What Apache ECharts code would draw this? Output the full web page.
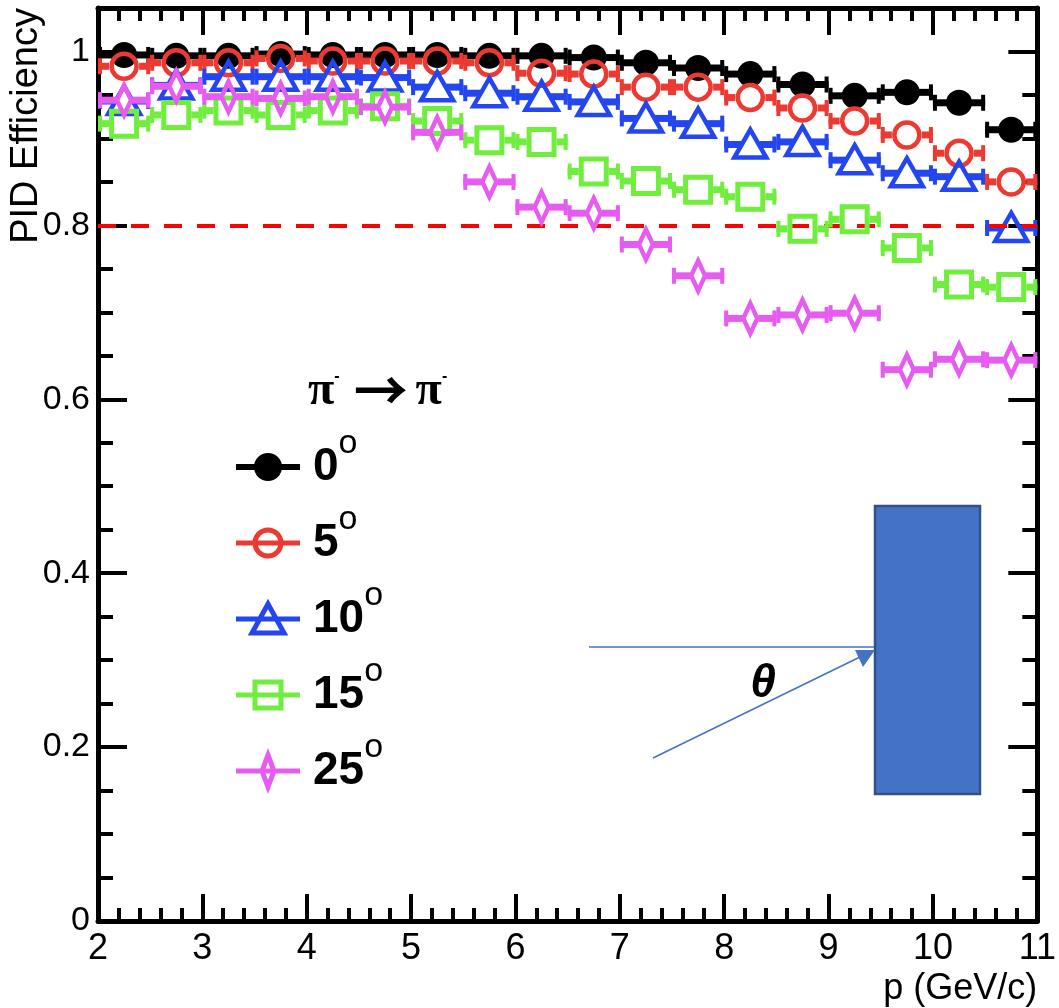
<!DOCTYPE html>
<html>
<head>
<meta charset="utf-8">
<title>PID Efficiency</title>
<script src="https://cdn.jsdelivr.net/npm/echarts@6/dist/echarts.min.js"></script>
<style>
  html, body { margin: 0; padding: 0; background: #fff; }
  #chart { width: 1059px; height: 1008px; }
</style>
</head>
<body>
<div id="chart"></div>
<script>
// momentum bins (GeV/c), half width 0.25
const binCenters = [2.25, 2.75, 3.25, 3.75, 4.25, 4.75, 5.25, 5.75, 6.25, 6.75, 7.25, 7.75, 8.25, 8.75, 9.25, 9.75, 10.25, 10.75];
const binHalfWidth = 0.25;

// efficiency per incidence angle
const eff0 = [0.996, 0.995, 0.995, 0.997, 0.996, 0.996, 0.996, 0.995, 0.995, 0.993, 0.987, 0.981, 0.974, 0.962, 0.949, 0.953, 0.941, 0.910];
const eff5 = [0.983, 0.987, 0.987, 0.992, 0.989, 0.989, 0.989, 0.987, 0.975, 0.974, 0.959, 0.959, 0.947, 0.935, 0.920, 0.904, 0.883, 0.850];
const eff10 = [0.943, 0.961, 0.971, 0.971, 0.971, 0.970, 0.959, 0.952, 0.948, 0.942, 0.923, 0.917, 0.893, 0.896, 0.875, 0.860, 0.856, 0.797];
const eff15 = [0.917, 0.927, 0.932, 0.927, 0.932, 0.937, 0.920, 0.898, 0.896, 0.862, 0.851, 0.841, 0.833, 0.796, 0.807, 0.774, 0.732, 0.729];
const eff25 = [0.944, 0.960, 0.948, 0.946, 0.948, 0.936, 0.907, 0.850, 0.821, 0.814, 0.778, 0.742, 0.693, 0.697, 0.699, 0.634, 0.646, 0.645];

const angleNames = ['0°', '5°', '10°', '15°', '25°'];
const cutLevel = 0.8;

const colors = ['#000000', '#ec3a33', '#2346f0', '#70ee3e', '#e65cf0'];
const markerKinds = ['dot', 'circle', 'triangle', 'square', 'diamond'];
const allData = [eff0, eff5, eff10, eff15, eff25];

const FONT = 'Liberation Sans, Arial, sans-serif';

// half gap left in the bar around each marker
const markerGap = { dot: 12, circle: 15, triangle: 9, square: 15, diamond: 8 };

function markerShape(kind, cx, cy, color) {
  const open = { fill: 'none', stroke: color, lineWidth: 4.5 };
  if (kind === 'dot') return { type: 'circle', shape: { cx: cx, cy: cy, r: 13 }, style: { fill: color } };
  if (kind === 'circle') return { type: 'circle', shape: { cx: cx, cy: cy, r: 12.5 }, style: open };
  if (kind === 'triangle') return { type: 'polygon', shape: { points: [[cx, cy - 15], [cx + 16, cy + 13], [cx - 16, cy + 13]] }, style: open };
  if (kind === 'square') return { type: 'rect', shape: { x: cx - 12.5, y: cy - 12.5, width: 25, height: 25 }, style: Object.assign({}, open, { lineWidth: 5 }) };
  return { type: 'polygon', shape: { points: [[cx, cy - 15], [cx + 7, cy], [cx, cy + 15], [cx - 7, cy]] }, style: open };
}

function makeRender(kind, color) {
  return function (params, api) {
    const x = api.value(0);
    const y = api.value(1);
    const c = api.coord([x, y]);
    const l = api.coord([x - binHalfWidth, y]);
    const r = api.coord([x + binHalfWidth, y]);
    const gap = markerGap[kind];
    const bar = { stroke: color, lineWidth: 7 };
    const cap = { stroke: color, lineWidth: 4 };
    return {
      type: 'group',
      children: [
        { type: 'line', shape: { x1: l[0], y1: c[1], x2: c[0] - gap, y2: c[1] }, style: bar },
        { type: 'line', shape: { x1: c[0] + gap, y1: c[1], x2: r[0], y2: c[1] }, style: bar },
        { type: 'line', shape: { x1: l[0] + 2, y1: c[1] - 8, x2: l[0] + 2, y2: c[1] + 8 }, style: cap },
        { type: 'line', shape: { x1: r[0] - 2, y1: c[1] - 8, x2: r[0] - 2, y2: c[1] + 8 }, style: cap },
        markerShape(kind, c[0], c[1], color)
      ]
    };
  };
}

const series = angleNames.map(function (name, i) {
  const s = {
    name: name,
    type: 'custom',
    renderItem: makeRender(markerKinds[i], colors[i]),
    data: binCenters.map(function (x, k) { return [x, allData[i][k]]; }),
    encode: { x: 0, y: 1 },
    itemStyle: { color: colors[i] },
    clip: false,
    z: 2 + i
  };
  if (i === 0) {
    s.markLine = {
      silent: true,
      symbol: ['none', 'none'],
      label: { show: false },
      lineStyle: { color: '#ff0000', type: [18, 15], width: 4 },
      data: [{ yAxis: cutLevel }]
    };
  }
  return s;
});

// legend icons: line through the marker, box 64x34
const box = 'M0,0L0,0M64,34L64,34M0,17L64,17';
const legendIcons = [
  'path://' + box + 'M43,17A11,11,0,1,1,21,17A11,11,0,1,1,43,17Z',
  'path://' + box + 'M45,17A13,13,0,1,1,19,17A13,13,0,1,1,45,17Z',
  'path://' + box + 'M32,2L48,31L16,31Z',
  'path://' + box + 'M19,4L45,4L45,30L19,30Z',
  'path://' + box + 'M32,1L38,17L32,33L26,17Z'
];

const xAxisBase = {
  type: 'value', min: 2, max: 11, interval: 1,
  axisLine: { show: true, onZero: false, lineStyle: { color: '#000', width: 5 } },
  axisTick: { show: true, inside: true, length: 27, lineStyle: { color: '#000', width: 4 } },
  minorTick: { show: true, splitNumber: 5, length: 13, lineStyle: { color: '#000', width: 4 } },
  splitLine: { show: false },
  minorSplitLine: { show: false }
};

const yMajorBase = {
  type: 'value', min: 0, max: 1.05, interval: 0.2,
  axisLine: { show: true, onZero: false, lineStyle: { color: '#000', width: 5 } },
  axisTick: { show: true, inside: true, length: 29, lineStyle: { color: '#000', width: 4 } },
  splitLine: { show: false }
};

const yMinorBase = {
  type: 'value', min: 0, max: 1.05, interval: 0.05,
  axisLine: { show: false },
  axisTick: { show: true, inside: true, length: 15, lineStyle: { color: '#000', width: 4 } },
  axisLabel: { show: false },
  splitLine: { show: false }
};

const option = {
  animation: false,
  backgroundColor: '#fff',
  grid: { left: 98, right: 20, top: 8, bottom: 87 },
  title: {
    text: '{p|π}{m|-}{a|→}{p|π}{m|-}',
    left: 303,
    top: 358,
    textStyle: {
      rich: {
        p: { fontFamily: 'Liberation Serif, serif', fontSize: 48, color: '#000' },
        m: { fontFamily: FONT, fontSize: 16, color: '#000', padding: [0, 0, 30, 0] },
        a: { fontFamily: 'Noto Sans CJK SC, sans-serif', fontSize: 54, color: '#000', padding: [0, 8, 4, 14] }
      }
    }
  },
  legend: {
    orient: 'vertical',
    left: 228,
    top: 422,
    itemWidth: 64,
    itemHeight: 34,
    itemGap: 13,
    selectedMode: false,
    symbolKeepAspect: false,
    data: angleNames.map(function (n, i) {
      return {
        name: n,
        icon: legendIcons[i],
        itemStyle: { color: i === 0 ? colors[i] : 'none', borderColor: colors[i], borderWidth: i === 0 ? 6 : 5 }
      };
    }),
    formatter: function (n) { return '{n|' + n.replace('°', '') + '}{s|o}'; },
    textStyle: {
      padding: [0, 0, 0, 8],
      rich: {
        n: { fontFamily: FONT, fontSize: 46, fontWeight: 'bold', color: '#000', verticalAlign: 'middle' },
        s: { fontFamily: FONT, fontSize: 34, color: '#000', verticalAlign: 'middle', padding: [0, 0, 46, 0] }
      }
    }
  },
  xAxis: [
    Object.assign({}, xAxisBase, {
      position: 'bottom',
      axisLabel: { color: '#000', fontSize: 36, fontFamily: FONT, margin: 10 },
      name: 'p (GeV/c)',
      nameLocation: 'end',
      nameGap: 0,
      nameMoveOverlap: false,
      nameTextStyle: { color: '#000', fontSize: 36, fontFamily: FONT, align: 'right', verticalAlign: 'top', padding: [50, 0, 0, 0] }
    }),
    Object.assign({}, xAxisBase, { position: 'top', axisLabel: { show: false } })
  ],
  yAxis: [
    Object.assign({}, yMajorBase, {
      position: 'left',
      axisLabel: { color: '#000', fontSize: 34, fontFamily: FONT, margin: 8, showMaxLabel: false },
      name: 'PID Efficiency',
      nameLocation: 'end',
      nameGap: 0,
      nameRotate: 90,
      nameMoveOverlap: false,
      nameTextStyle: { color: '#000', fontSize: 38, fontFamily: FONT, align: 'right', verticalAlign: 'bottom', padding: [0, 0, 52, 0] }
    }),
    Object.assign({}, yMajorBase, { position: 'right', axisLabel: { show: false } }),
    Object.assign({}, yMinorBase, { position: 'left' }),
    Object.assign({}, yMinorBase, { position: 'right' })
  ],
  series: series,
  graphic: [
    {
      type: 'rect', z: 100,
      shape: { x: 875, y: 506, width: 105, height: 288 },
      style: { fill: '#4472c4', stroke: '#2f528f', lineWidth: 2.5 }
    },
    {
      type: 'line', z: 100,
      shape: { x1: 589, y1: 647, x2: 874, y2: 647 },
      style: { stroke: '#4472c4', lineWidth: 1.5 }
    },
    {
      type: 'line', z: 100,
      shape: { x1: 653, y1: 758, x2: 862, y2: 656 },
      style: { stroke: '#4472c4', lineWidth: 1.5 }
    },
    {
      type: 'polygon', z: 100,
      shape: { points: [[875, 650], [855, 650], [863, 667]] },
      style: { fill: '#4472c4' }
    },
    {
      type: 'text', z: 100,
      x: 763, y: 684,
      style: {
        text: 'θ', fill: '#000', fontSize: 46, fontWeight: 'bold', fontStyle: 'italic',
        fontFamily: FONT, align: 'center', verticalAlign: 'middle'
      }
    }
  ]
};

const chart = echarts.init(document.getElementById('chart'), null, { renderer: 'canvas' });
chart.setOption(option);
</script>
</body>
</html>
